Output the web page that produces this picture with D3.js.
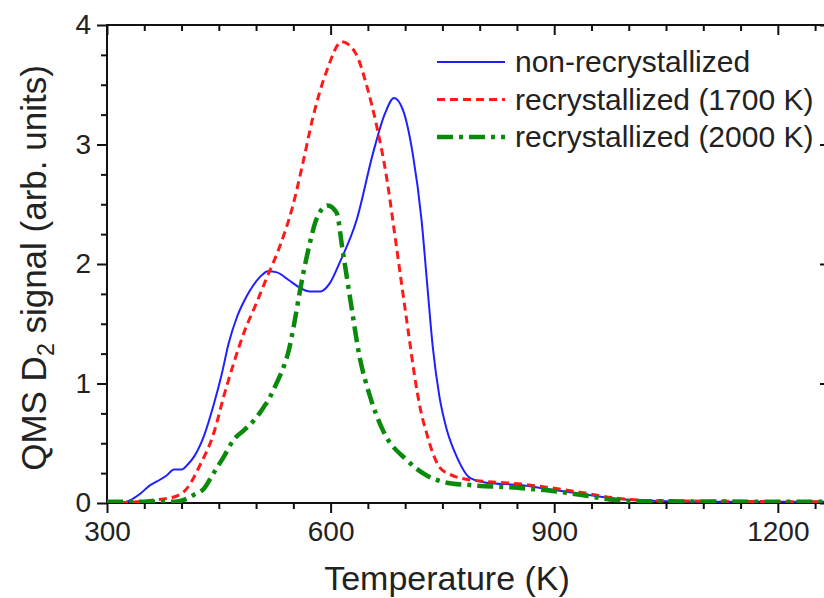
<!DOCTYPE html>
<html>
<head>
<meta charset="utf-8">
<script src="https://cdn.jsdelivr.net/npm/d3@7"></script>
<style>
  body { margin: 0; background: #fff; }
  svg { display: block; font-family: "Liberation Sans", Arial, sans-serif; }
  .tick line, .frame { stroke: #111; stroke-width: 2; }
</style>
</head>
<body>
<div id="tds"></div>
<script>
var width = 824
var height = 598

// temperature (K) / signal pairs
const blueT = [300,320,330,345,358,367,380,390,400,408,417,430,443,454,463,474,484,492,505,516,528,545,559,572,586,599,612,635,657,673,685,697,710,722,730,737,746,756,769,787,809,854,898,944,978,1020,1100,1270];
const blueS = [0,0,0.02,0.08,0.15,0.18,0.23,0.28,0.28,0.32,0.39,0.56,0.82,1.08,1.33,1.55,1.69,1.78,1.89,1.94,1.93,1.86,1.80,1.77,1.77,1.84,2.01,2.37,2.93,3.26,3.39,3.29,2.93,2.37,1.80,1.31,0.89,0.61,0.39,0.21,0.17,0.15,0.11,0.07,0.04,0.02,0.01,0.01];

const redT = [300,340,370,390,407,425,443,457,470,484,501,514,532,549,563,576,595,615,633,649,662,675,686,696,705,713,720,729,737,746,760,773,809,854,898,944,984,1030,1270];
const redS = [0,0.01,0.03,0.05,0.12,0.32,0.58,0.90,1.17,1.43,1.68,1.88,2.15,2.48,2.85,3.22,3.62,3.86,3.77,3.48,3.15,2.73,2.25,1.80,1.40,1.05,0.80,0.58,0.42,0.30,0.24,0.21,0.18,0.16,0.125,0.08,0.04,0.02,0.01];

const greenT = [300,390,405,417,430,443,457,470,484,497,510,519,525,537,544,552,559,568,582,596,608,616,626,639,653,670,702,729,756,787,854,898,944,974,1020,1270];
const greenS = [0.01,0.01,0.03,0.07,0.12,0.25,0.39,0.53,0.61,0.69,0.80,0.89,0.97,1.14,1.28,1.53,1.78,2.06,2.39,2.49,2.43,2.12,1.72,1.22,0.89,0.61,0.36,0.23,0.17,0.15,0.125,0.10,0.06,0.03,0.015,0.01];

const seriesNames = ["non-recrystallized", "recrystallized (1700 K)", "recrystallized (2000 K)"];

const xMajor = [300, 600, 900, 1200];
const yMajor = [0, 1, 2, 3, 4];

var svg = d3.select("#tds").append("svg")
    .attr("width", width)
    .attr("height", height)

const margin = {top: 25, left: 107, bottom: 95};
const innerWidth = 723;   // runs a bit past the window edge, as in the picture
const innerHeight = height - margin.top - margin.bottom;

const xScale = d3.scaleLinear().domain([300, 1270]).range([0, innerWidth]);
const yScale = d3.scaleLinear().domain([0, 4]).range([innerHeight, 0]);

const g = svg.append("g")
    .attr("transform", `translate(${margin.left}, ${margin.top})`)

g.append("clipPath").attr("id", "clip")
  .append("rect").attr("width", innerWidth).attr("height", innerHeight);

const xMinor = d3.range(300, 1271, 50).filter(v => !xMajor.includes(v));
const yMinor = d3.range(0, 4.01, 0.25).filter(v => !yMajor.includes(v));

// bottom + left: outward ticks with labels
const bottomG = g.append("g").attr("transform", `translate(0, ${innerHeight})`)
bottomG.append("g").call(d3.axisBottom(xScale).tickValues(xMinor).tickSize(6).tickFormat(""));
bottomG.append("g").call(d3.axisBottom(xScale).tickValues(xMajor).tickSize(10).tickPadding(8).tickFormat(d3.format("d")))
  .attr("font-size", 28).attr("font-family", "Liberation Sans, Arial, sans-serif");

const leftG = g.append("g")
leftG.append("g").call(d3.axisLeft(yScale).tickValues(yMinor).tickSize(6).tickFormat(""));
leftG.append("g").call(d3.axisLeft(yScale).tickValues(yMajor).tickSize(10).tickPadding(6).tickFormat(d3.format("d")))
  .attr("font-size", 28).attr("font-family", "Liberation Sans, Arial, sans-serif");

// top + right: inward ticks, no labels
const topG = g.append("g")
topG.append("g").call(d3.axisBottom(xScale).tickValues(xMinor).tickSize(6).tickFormat(""));
topG.append("g").call(d3.axisBottom(xScale).tickValues(xMajor).tickSize(10).tickFormat(""));

const rightG = g.append("g").attr("transform", `translate(${innerWidth}, 0)`)
rightG.append("g").call(d3.axisLeft(yScale).tickValues(yMinor).tickSize(6).tickFormat(""));
rightG.append("g").call(d3.axisLeft(yScale).tickValues(yMajor).tickSize(10).tickFormat(""));

g.selectAll(".domain").remove();
// drop the empty labels of the unlabelled axes
g.selectAll(".tick text").filter(function() { return this.textContent === ""; }).remove();
g.selectAll(".tick text").attr("fill", "#222");

g.append("rect")
  .attr("class", "frame")
  .attr("width", innerWidth)
  .attr("height", innerHeight)
  .attr("fill", "none");

const series = [
  {t: blueT, s: blueS, color: "#2020ff", w: 2, dash: null},
  {t: redT, s: redS, color: "#ff1a1a", w: 3, dash: "8,5"},
  {t: greenT, s: greenS, color: "#0a8a0a", w: 4.5, dash: "16,6,4,6"}
];

const lineGenerator = d3.line()
    .x(d => xScale(d[0]))
    .y(d => yScale(d[1]))
    .curve(d3.curveMonotoneX);

const lines = g.append("g").attr("clip-path", "url(#clip)");
series.forEach(sr => {
  lines.append("path")
    .attr("d", lineGenerator(d3.zip(sr.t, sr.s)))
    .attr("fill", "none")
    .attr("stroke", sr.color)
    .attr("stroke-width", sr.w)
    .attr("stroke-dasharray", sr.dash);
});

// legend
series.forEach((sr, i) => {
  const ly = 62 + i * 37.5;
  svg.append("line")
    .attr("x1", 437).attr("x2", 505)
    .attr("y1", ly).attr("y2", ly)
    .attr("stroke", sr.color)
    .attr("stroke-width", sr.w)
    .attr("stroke-dasharray", sr.dash);
  svg.append("text")
    .attr("x", 515).attr("y", ly + 10)
    .attr("font-size", 30)
    .attr("fill", "#222")
    .text(seriesNames[i]);
});

// axis titles
svg.append("text")
  .attr("x", 447).attr("y", 590)
  .attr("text-anchor", "middle")
  .attr("font-size", 34)
  .attr("fill", "#222")
  .text("Temperature (K)");

const yLab = svg.append("text")
  .attr("transform", "translate(46, 268) rotate(-90)")
  .attr("text-anchor", "middle")
  .attr("font-size", 35)
  .attr("fill", "#222");
yLab.append("tspan").text("QMS D");
yLab.append("tspan").attr("font-size", 23).attr("dy", 8).text("2");
yLab.append("tspan").attr("dy", -8).text(" signal (arb. units)");
</script>
</body>
</html>
